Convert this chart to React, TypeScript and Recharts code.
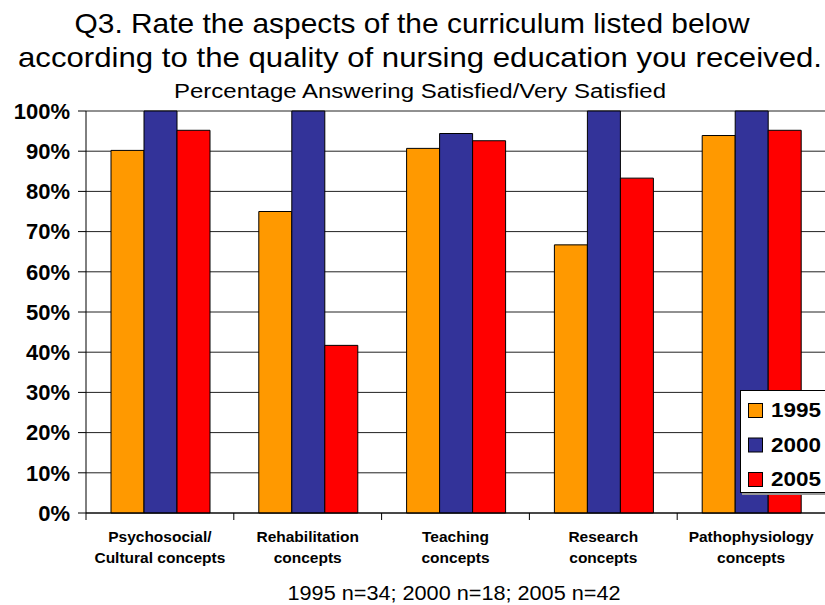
import React from 'react';
import { BarChart, Bar, XAxis, YAxis, CartesianGrid } from 'recharts';

// categories, split over two lines the way the axis shows them
const categories = [
  'Psychosocial/ Cultural concepts',
  'Rehabilitation concepts',
  'Teaching concepts',
  'Research concepts',
  'Pathophysiology concepts',
];
const categoryLines = [
  ['Psychosocial/', 'Cultural concepts'],
  ['Rehabilitation', 'concepts'],
  ['Teaching', 'concepts'],
  ['Research', 'concepts'],
  ['Pathophysiology', 'concepts'],
];

// percent satisfied / very satisfied
const values1995 = [90.2, 75.0, 90.7, 66.7, 93.9];
const values2000 = [100, 100, 94.4, 100, 100];
const values2005 = [95.2, 41.7, 92.6, 83.3, 95.2];

const yTicks = [0, 10, 20, 30, 40, 50, 60, 70, 80, 90, 100];

const seriesNames = ['1995', '2000', '2005'];
const seriesKeys = ['y1995', 'y2000', 'y2005'];
const seriesColors = ['#FF9900', '#333399', '#FF0000'];

const data = categories.map((name, i) => ({
  name,
  y1995: values1995[i],
  y2000: values2000[i],
  y2005: values2005[i],
}));

const W = 825;
const H = 605;
const LEFT = 86;
const TOP = 111;
const AXIS_H = 92;
const band = (W - LEFT) / categories.length;

const font = '"Liberation Sans", Arial, sans-serif';

const CategoryTick = (props: any) => {
  const { x, y, payload } = props;
  const idx = categories.indexOf(payload.value);
  const lines = categoryLines[idx] || [payload.value];
  return (
    <g>
      <line x1={x - band / 2} y1={y} x2={x - band / 2} y2={y + 7} stroke="#000" />
      {lines.map((l, k) => (
        <text
          key={k}
          x={x}
          y={y + 29 + k * 21}
          textAnchor="middle"
          fontFamily={font}
          fontWeight="bold"
          fontSize={15.5}
          fill="#000"
        >
          {l}
        </text>
      ))}
    </g>
  );
};

// legend drawn in the overlay, top-left corner of its box at (740, 390)
const LegendBox = () => (
  <g transform="translate(740, 390)">
    <rect x={2} y={2} width={95} height={103} fill="#999" />
    <rect x={0.5} y={0.5} width={95} height={102} fill="#fff" stroke="#000" />
    {seriesNames.map((name, i) => (
      <g key={name} transform={`translate(0, ${i * 34.5})`}>
        <rect x={8.5} y={13.5} width={14} height={14} fill={seriesColors[i]} stroke="#000" />
        <text
          x={31}
          y={27}
          fontSize={20}
          fontWeight="bold"
          fill="#000"
          textLength={50}
          lengthAdjust="spacingAndGlyphs"
        >
          {name}
        </text>
      </g>
    ))}
  </g>
);

export default function App() {
  return (
    <div
      style={{
        position: 'absolute',
        left: 0,
        top: 0,
        width: W,
        height: H,
        overflow: 'hidden',
        background: '#fff',
      }}
    >
      <BarChart
        width={W}
        height={H}
        data={data}
        margin={{ top: TOP, right: 0, bottom: 0, left: 0 }}
        barCategoryGap={25}
        barGap={0}
      >
        <CartesianGrid vertical={false} stroke="#222" />
        <XAxis
          dataKey="name"
          height={AXIS_H}
          interval={0}
          tickLine={false}
          tickSize={0}
          tickMargin={0}
          axisLine={{ stroke: '#000' }}
          tick={<CategoryTick />}
        />
        <YAxis
          width={LEFT}
          domain={[0, 100]}
          ticks={yTicks}
          interval={0}
          tickSize={8}
          tickMargin={8}
          tickLine={{ stroke: '#000' }}
          axisLine={{ stroke: '#000' }}
          tickFormatter={(v) => `${v}%`}
          tick={{ fill: '#000', fontSize: 22, fontWeight: 'bold', fontFamily: font }}
        />
        {seriesKeys.map((k, i) => (
          <Bar
            key={k}
            dataKey={k}
            name={seriesNames[i]}
            fill={seriesColors[i]}
            stroke="#000"
            strokeWidth={1}
            isAnimationActive={false}
          />
        ))}
      </BarChart>
      <svg
        width={W}
        height={H}
        style={{ position: 'absolute', left: 0, top: 0, pointerEvents: 'none' }}
        fontFamily={font}
      >
        <text x={412} y={33} textAnchor="middle" fontSize={28} textLength={675} lengthAdjust="spacingAndGlyphs">
          Q3. Rate the aspects of the curriculum listed below
        </text>
        <text x={420} y={67} textAnchor="middle" fontSize={28} textLength={804} lengthAdjust="spacingAndGlyphs">
          according to the quality of nursing education you received.
        </text>
        <text x={420} y={98} textAnchor="middle" fontSize={20} textLength={492} lengthAdjust="spacingAndGlyphs">
          Percentage Answering Satisfied/Very Satisfied
        </text>
        <text x={454} y={600} textAnchor="middle" fontSize={20} textLength={333} lengthAdjust="spacingAndGlyphs">
          1995 n=34; 2000 n=18; 2005 n=42
        </text>
        <LegendBox />
      </svg>
    </div>
  );
}
